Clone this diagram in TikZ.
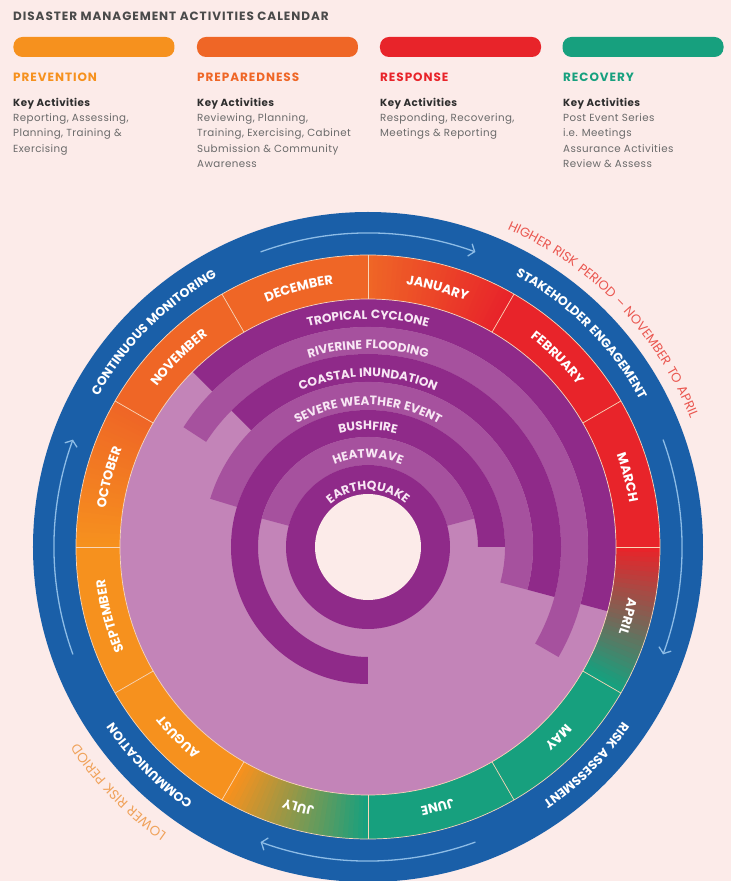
\documentclass[tikz,border=0pt]{standalone}
\usepackage{fontspec}
\setmainfont{Poppins}
\newfontfamily\hdrf[LetterSpace=8]{Poppins}
\newfontfamily\bodyf[LetterSpace=4]{Poppins}
\newfontfamily\arcf[LetterSpace=6]{Poppins}
\usetikzlibrary{decorations.text,arrows.meta}
\definecolor{bgc}{HTML}{FCEBE9}
\definecolor{titlec}{HTML}{4A4A4A}
\definecolor{bodyc}{HTML}{6A6A6A}
\definecolor{keyc}{HTML}{2E2E2E}
\definecolor{blueR}{HTML}{1A5FA8}
\definecolor{blueL}{HTML}{8DBCE6}
\definecolor{orgP}{HTML}{F6911E}
\definecolor{orgQ}{HTML}{EF6626}
\definecolor{redR}{HTML}{E8242A}
\definecolor{grnR}{HTML}{17A07E}
\definecolor{purD}{HTML}{8F2A89}
\definecolor{purM}{HTML}{A6519E}
\definecolor{purL}{HTML}{C384B8}
\definecolor{sepc}{HTML}{F9D6B8}
\definecolor{hiRisk}{HTML}{EA5750}
\definecolor{loRisk}{HTML}{F0A25A}
\definecolor{hzc}{HTML}{F8E6F4}

\newcommand\ringsector[5]{\fill[#1] (#4:#3) arc[start angle=#4,end angle=#5,radius=#3] -- (#5:#2) arc[start angle=#5,end angle=#4,radius=#2] -- cycle;}
\newcommand\gradmonth[3]{%
  \foreach \i in {0,...,29}{%
    \pgfmathtruncatemacro\pp{100-\i*100/29}%
    \pgfmathsetmacro\aa{#1-\i}%
    \pgfmathsetmacro\bb{#1-\i-1.3}%
    \ringsector{#2!\pp!#3}{248}{292}{\aa}{\bb}}}
\newcommand\arctext[5]{\path[decorate,decoration={text along path,text align=center,text={|#1|#5}}] ({#3+#4}:#2) arc[start angle={#3+#4},end angle={#3-#4},radius=#2];}

\tikzset{
  barbox/.style={rounded corners=9pt, minimum width=161pt, minimum height=20pt, inner sep=0pt},
  headtxt/.style={anchor=base west, inner sep=0pt, font=\hdrf\bfseries\fontsize{12}{14}\selectfont},
  keytxt/.style={anchor=base west, inner sep=0pt, text=keyc, font=\bodyf\bfseries\fontsize{10.3}{12}\selectfont},
  bodytxt/.style={anchor=base west, inner sep=0pt, text=bodyc, font=\bodyf\fontsize{10.3}{12}\selectfont},
  arrowline/.style={draw=blueL, line width=1.3pt, -{Straight Barb[length=5pt,width=13pt,line width=1.3pt]}},
  sepline/.style={draw=sepc, line width=0.7pt}
}

\begin{document}
\begin{tikzpicture}[x=1pt,y=1pt]
\useasboundingbox (-368,-334) rectangle (363,547);
\fill[bgc] (-368,-334) rectangle (363,547);

% ---------- header ----------
\node[anchor=base west, inner sep=0pt, text=titlec, font=\hdrf\bfseries\fontsize{12}{14}\selectfont] (title) at (-355,526) {DISASTER MANAGEMENT ACTIVITIES CALENDAR};

\node[barbox, fill=orgP] (barA) at (-274,500) {};
\node[barbox, fill=orgQ] (barB) at (-90.5,500) {};
\node[barbox, fill=redR] (barC) at (92.5,500) {};
\node[barbox, fill=grnR] (barD) at (275,500) {};

\node[headtxt, text=orgP] (hA) at (-355,465) {PREVENTION};
\node[headtxt, text=orgQ] (hB) at (-171,465) {PREPAREDNESS};
\node[headtxt, text=redR] (hC) at (12,465) {RESPONSE};
\node[headtxt, text=grnR] (hD) at (195,465) {RECOVERY};

\node[keytxt] (kA) at (-355,440) {Key Activities};
\node[keytxt] (kB) at (-171,440) {Key Activities};
\node[keytxt] (kC) at (12,440) {Key Activities};
\node[keytxt] (kD) at (195,440) {Key Activities};

\node[bodytxt] (a1) at (-355,425.5) {Reporting, Assessing,};
\node[bodytxt] (a2) at (-355,410) {Planning, Training \&};
\node[bodytxt] (a3) at (-355,394.5) {Exercising};

\node[bodytxt] (b1) at (-171,425.5) {Reviewing, Planning,};
\node[bodytxt] (b2) at (-171,410) {Training, Exercising, Cabinet};
\node[bodytxt] (b3) at (-171,394.5) {Submission \& Community};
\node[bodytxt] (b4) at (-171,379) {Awareness};

\node[bodytxt] (c1) at (12,425.5) {Responding, Recovering,};
\node[bodytxt] (c2) at (12,410) {Meetings \& Reporting};

\node[bodytxt] (d1) at (195,425.5) {Post Event Series};
\node[bodytxt] (d2) at (195,410) {i.e. Meetings};
\node[bodytxt] (d3) at (195,394.5) {Assurance Activities};
\node[bodytxt] (d4) at (195,379) {Review \& Assess};

% ---------- outer blue ring ----------
\fill[blueR] (0,0) circle (335);

% ---------- month ring ----------
\ringsector{orgQ}{248}{292}{120}{90}
\ringsector{orgQ}{248}{292}{150}{120}
\gradmonth{180}{orgP}{orgQ}
\ringsector{orgP}{248}{292}{210}{180}
\ringsector{orgP}{248}{292}{240}{210}
\gradmonth{270}{grnR}{orgP}
\ringsector{grnR}{248}{292}{300}{270}
\ringsector{grnR}{248}{292}{330}{300}
\gradmonth{360}{redR}{grnR}
\ringsector{redR}{248}{292}{30}{0}
\ringsector{redR}{248}{292}{60}{30}
\gradmonth{90}{orgQ}{redR}

% ---------- hazard disc ----------
\fill[purL] (0,0) circle (248);
\ringsector{purD}{220}{248}{135}{-15}   % tropical cyclone
\ringsector{purM}{193}{220}{147}{-30}   % riverine flooding
\ringsector{purD}{165}{193}{135}{-15}   % coastal inundation
\ringsector{purM}{137}{165}{163}{-15}   % severe weather
\ringsector{purD}{110}{137}{270}{0}     % bushfire
\ringsector{purM}{82}{110}{165}{15}     % heatwave
\fill[purD] (0,0) circle (82);          % earthquake
\fill[bgc] (0,0) circle (53);

% separators
\foreach \a in {0,30,...,330}{\draw[sepline] (\a:248) -- (\a:292);}
\draw[sepline] (0,0) circle (248);
\draw[sepline] (0,0) circle (292);

% ---------- arrows on blue ring ----------
\draw[arrowline] (110:314) arc[start angle=110,end angle=70,radius=314];
\draw[arrowline] (20:314) arc[start angle=20,end angle=-20,radius=314];
\draw[arrowline] (-70:314) arc[start angle=-70,end angle=-110,radius=314];
\draw[arrowline] (200:314) arc[start angle=200,end angle=160,radius=314];

% ---------- ring texts ----------
\arctext{\arcf\bfseries\fontsize{12.5}{14}\selectfont\color{white}}{309}{135}{60}{CONTINUOUS MONITORING}
\arctext{\arcf\bfseries\fontsize{12.5}{14}\selectfont\color{white}}{309}{45}{60}{STAKEHOLDER ENGAGEMENT}
\arctext{\arcf\bfseries\fontsize{12.5}{14}\selectfont\color{white}}{309}{-45}{60}{RISK ASSESSMENT}
\arctext{\arcf\bfseries\fontsize{12.5}{14}\selectfont\color{white}}{309}{-135}{60}{COMMUNICATION}

\arctext{\arcf\fontsize{13}{15}\selectfont\color{hiRisk}}{347}{44}{75}{HIGHER RISK PERIOD – NOVEMBER TO APRIL}
\arctext{\arcf\fontsize{13.5}{15}\selectfont\color{loRisk}}{350}{-135.5}{60}{LOWER RISK PERIOD}

% months
\foreach \m/\c in {JANUARY/75,FEBRUARY/45,MARCH/15,APRIL/-15,MAY/-45,JUNE/-75,JULY/-105,AUGUST/-135,SEPTEMBER/-165,OCTOBER/165,NOVEMBER/135,DECEMBER/105}{%
  \arctext{\arcf\bfseries\fontsize{13}{15}\selectfont\color{white}}{265}{\c}{40}{\m}}

% hazards
\arctext{\arcf\bfseries\fontsize{12.2}{14}\selectfont\color{hzc}}{228}{90}{60}{TROPICAL CYCLONE}
\arctext{\arcf\bfseries\fontsize{12.2}{14}\selectfont\color{hzc}}{198}{90}{60}{RIVERINE FLOODING}
\arctext{\arcf\bfseries\fontsize{12.2}{14}\selectfont\color{hzc}}{170}{90}{70}{COASTAL INUNDATION}
\arctext{\arcf\bfseries\fontsize{12.2}{14}\selectfont\color{hzc}}{142}{90}{80}{SEVERE WEATHER EVENT}
\arctext{\arcf\bfseries\fontsize{12.2}{14}\selectfont\color{hzc}}{117}{90}{60}{BUSHFIRE}
\arctext{\arcf\bfseries\fontsize{12.2}{14}\selectfont\color{hzc}}{89}{90}{80}{HEATWAVE}
\arctext{\arcf\bfseries\fontsize{12.2}{14}\selectfont\color{hzc}}{57}{90}{100}{EARTHQUAKE}
\end{tikzpicture}
\end{document}
